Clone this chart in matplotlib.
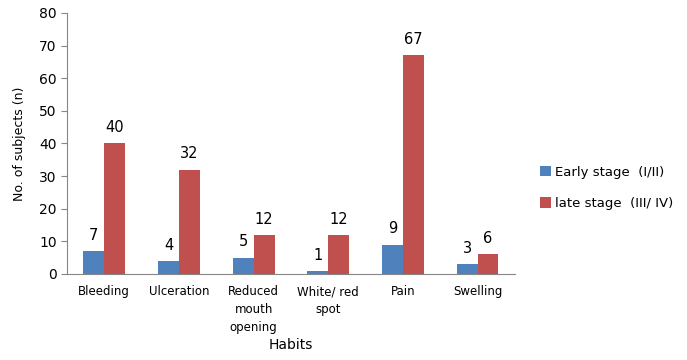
import matplotlib.pyplot as plt
import numpy as np

categories = ["Bleeding", "Ulceration", "Reduced\nmouth\nopening", "White/ red\nspot", "Pain", "Swelling"]
early = [7, 4, 5, 1, 9, 3]
late = [40, 32, 12, 12, 67, 6]
yticks = [0, 10, 20, 30, 40, 50, 60, 70, 80]

blue = "#4F81BD"
red = "#C0504D"
grey = "#868686"

fig = plt.figure(figsize=(6.87, 3.6), dpi=100)
ax = fig.add_axes([0.0975, 0.239, 0.652, 0.725])

x = np.arange(len(categories))
w = 0.28
b1 = ax.bar(x - w / 2, early, w, color=blue, label="Early stage  (I/II)")
b2 = ax.bar(x + w / 2, late, w, color=red, label="late stage  (III/ IV)")

for rects, vals in ((b1, early), (b2, late)):
    for r, v in zip(rects, vals):
        ax.text(r.get_x() + r.get_width() / 2, v + 2.5, str(v),
                ha="center", va="bottom", fontsize=10.5)

ax.set_xlim(-0.5, len(categories) - 0.5)
ax.set_ylim(0, 80)
ax.set_yticks(yticks)
ax.set_xticks(x)
ax.set_xticklabels(categories, fontsize=8.5, linespacing=1.5)
ax.tick_params(axis="x", length=0, pad=8)
ax.tick_params(axis="y", labelsize=10, color=grey, length=4)
for s in ("top", "right"):
    ax.spines[s].set_visible(False)
for s in ("left", "bottom"):
    ax.spines[s].set_color(grey)

ax.set_ylabel("No. of subjects (n)", fontsize=9, labelpad=9)
ax.set_xlabel("Habits", fontsize=10, labelpad=3)

ax.legend(loc="center left", bbox_to_anchor=(1.03, 0.33), frameon=False,
          fontsize=9.5, handlelength=0.8, handleheight=0.8, handletextpad=0.3,
          labelspacing=1.4)

fig.savefig("out.png", dpi=100)
